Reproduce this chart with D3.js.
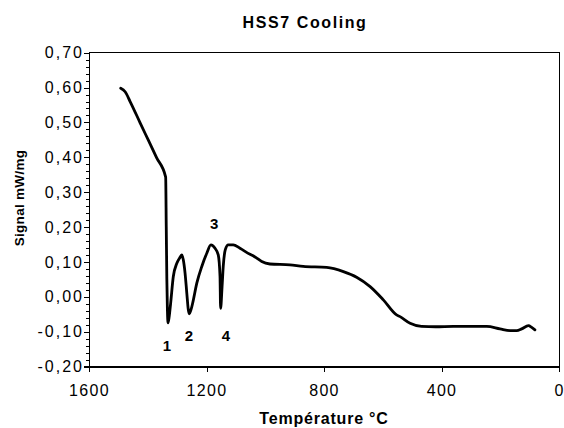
<!DOCTYPE html>
<html>
<head>
<meta charset="utf-8">
<script src="https://cdn.jsdelivr.net/npm/d3@7"></script>
<style>
  body { margin: 0; background: #fff; }
  svg { display: block; font-family: "Liberation Sans", Arial, sans-serif; }
  .axis text { font-size: 16px; fill: #000; }
  .axis path, .axis line { stroke: #000; shape-rendering: crispEdges; }
  .title, .axis-title, .peak { font-weight: bold; fill: #000; }
</style>
</head>
<body>
<svg id="chart"></svg>
<script>
// DSC cooling curve (temperature °C, signal mW/mg)
const temps = [1492, 1477, 1460, 1426, 1398, 1370, 1339, 1337, 1335, 1333, 1331,
  1327, 1322, 1313, 1301, 1290, 1284, 1279, 1273, 1267, 1262, 1259, 1252, 1247,
  1233, 1216, 1199, 1185, 1171, 1160, 1154, 1152, 1147, 1143, 1136, 1126, 1109,
  1086, 1052, 1040, 1029, 1012, 984, 916, 871, 791, 734, 689, 643, 598, 553, 541,
  507, 468, 420, 360, 300, 246, 201, 167, 144, 127, 104, 93, 82];
const signal = [0.598, 0.588, 0.560, 0.499, 0.449, 0.399, 0.343, 0.200, 0.050, -0.040, -0.075,
  -0.057, -0.018, 0.058, 0.096, 0.113, 0.120, 0.106, 0.068, 0.010, -0.037, -0.049, -0.035, -0.018,
  0.039, 0.087, 0.125, 0.149, 0.139, 0.120, 0.058, -0.033, 0.029, 0.087, 0.135, 0.149, 0.149,
  0.139, 0.122, 0.117, 0.111, 0.101, 0.094, 0.0915, 0.087, 0.084, 0.072, 0.056, 0.029, -0.009, -0.052, -0.057,
  -0.076, -0.085, -0.086, -0.085, -0.085, -0.085, -0.092, -0.097, -0.097, -0.092, -0.083, -0.088, -0.095];

const xTicks = [1600, 1200, 800, 400, 0];
const yTicks = [-0.2, -0.1, 0, 0.1, 0.2, 0.3, 0.4, 0.5, 0.6, 0.7];
const yMinorTicks = d3.range(-20, 71, 2).map(d => d / 100);

const peakLabels = ['1', '2', '3', '4'];
const peakT = [1335, 1260, 1174, 1134];
const peakV = [-0.157, -0.126, 0.194, -0.126];

const data = temps.map((t, i) => ({ t: t, v: signal[i] }));

const width = 564, height = 428;
const margin = { top: 52.7, right: 5, bottom: 61.5, left: 89 };
const innerW = width - margin.left - margin.right;
const innerH = height - margin.top - margin.bottom;

const svg = d3.select('#chart')
  .attr('width', width)
  .attr('height', height);

const chart = svg.append('g')
  .attr('transform', `translate(${margin.left},${margin.top})`);

const xScale = d3.scaleLinear().domain([1600, 0]).range([0, innerW]);
const yScale = d3.scaleLinear().domain([-0.2, 0.7]).range([innerH, 0]);

const fmt = d => d3.format('.2f')(d).replace('.', ',').replace('−', '-');

// minor y ticks first
chart.append('g')
  .attr('class', 'axis')
  .call(d3.axisLeft(yScale).tickValues(yMinorTicks).tickSize(3).tickFormat(''))
  .call(g => g.select('.domain').remove());

chart.append('g')
  .attr('class', 'axis y-axis')
  .call(d3.axisLeft(yScale).tickValues(yTicks).tickSize(5).tickPadding(0).tickFormat(fmt))
  .call(g => g.selectAll('text').style('letter-spacing', '2px'));

chart.append('g')
  .attr('class', 'axis x-axis')
  .attr('transform', `translate(0,${innerH})`)
  .call(d3.axisBottom(xScale).tickValues(xTicks).tickSize(5).tickPadding(13.5).tickFormat(d3.format('d')))
  .call(g => g.selectAll('text').style('letter-spacing', '1.3px'));

// frame
chart.append('rect')
  .attr('width', innerW)
  .attr('height', innerH)
  .attr('fill', 'none')
  .attr('stroke', '#000')
  .attr('shape-rendering', 'crispEdges');

const line = d3.line()
  .x(d => xScale(d.t))
  .y(d => yScale(d.v))
  .curve(d3.curveMonotoneX);

chart.append('path')
  .datum(data)
  .attr('fill', 'none')
  .attr('stroke', '#000')
  .attr('stroke-width', 2.8)
  .attr('stroke-linejoin', 'round')
  .attr('stroke-linecap', 'round')
  .attr('d', line);

chart.selectAll('.peak')
  .data(peakLabels)
  .join('text')
  .attr('class', 'peak')
  .attr('x', (d, i) => xScale(peakT[i]))
  .attr('y', (d, i) => yScale(peakV[i]))
  .attr('text-anchor', 'middle')
  .style('font-size', '15px')
  .text(d => d);

svg.append('text')
  .attr('class', 'title')
  .attr('x', 305)
  .attr('y', 28)
  .attr('text-anchor', 'middle')
  .style('font-size', '16px')
  .style('letter-spacing', '1.6px')
  .text('HSS7 Cooling');

svg.append('text')
  .attr('class', 'axis-title')
  .attr('x', margin.left + innerW / 2)
  .attr('y', 424)
  .attr('text-anchor', 'middle')
  .style('font-size', '16px')
  .style('letter-spacing', '0.8px')
  .text('Température °C');

svg.append('text')
  .attr('class', 'axis-title')
  .attr('transform', 'translate(24,198) rotate(-90)')
  .attr('text-anchor', 'middle')
  .style('font-size', '13.5px')
  .style('letter-spacing', '0.3px')
  .text('Signal mW/mg');
</script>
</body>
</html>
